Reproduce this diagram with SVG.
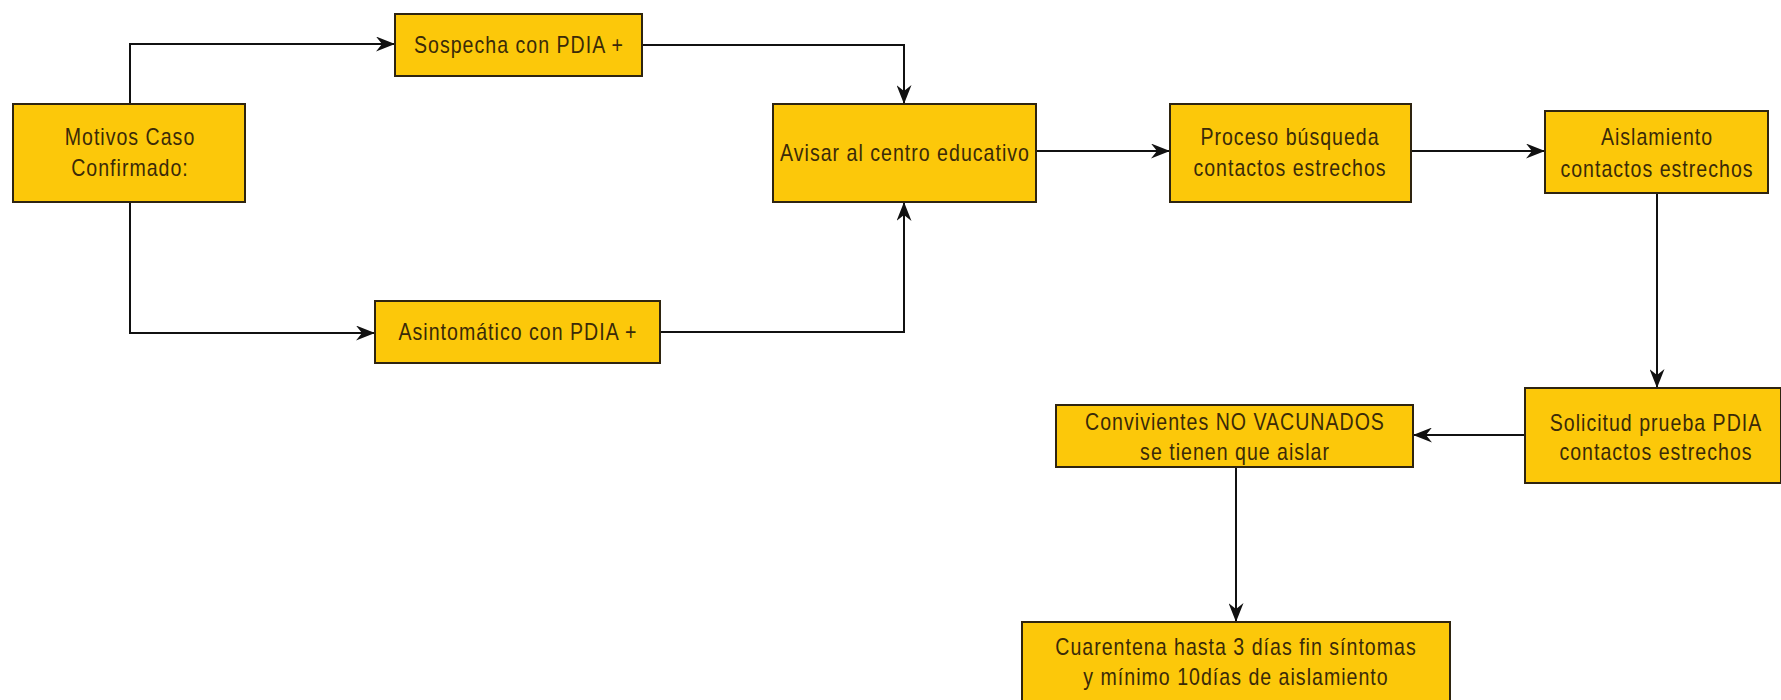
<svg xmlns="http://www.w3.org/2000/svg" width="1781" height="700" viewBox="0 0 1781 700">
<style>
.box{fill:#FCC80A;stroke:#2e2410;stroke-width:2}
.t{font-family:"Liberation Sans",Arial,sans-serif;font-size:23px;letter-spacing:1.2px;fill:#3a2a08;text-anchor:middle}
.c{fill:none;stroke:#111;stroke-width:2;marker-end:url(#arr)}
</style>
<defs>
<marker id="arr" markerUnits="userSpaceOnUse" viewBox="0 0 19 15" refX="19" refY="7.5" markerWidth="19" markerHeight="15" orient="auto">
<path d="M0,0 L19,7.5 L0,15 L6,7.5 Z" fill="#111"/>
</marker>
</defs>
<rect width="1781" height="700" fill="#fff"/>
<g id="connectors">
<path class="c" d="M130,104 V44 H395"/>
<path class="c" d="M130,202 V333 H375"/>
<path class="c" d="M642,45 H904 V104"/>
<path class="c" d="M660,332 H904 V202"/>
<path class="c" d="M1036,151 H1170"/>
<path class="c" d="M1411,151 H1545"/>
<path class="c" d="M1657,193 V388"/>
<path class="c" d="M1525,435 H1413"/>
<path class="c" d="M1236,467 V622"/>
</g>
<g id="motivos">
<rect class="box" x="13" y="104" width="232" height="98"/>
<text class="t" transform="translate(130,145) scale(0.85,1)">Motivos Caso</text>
<text class="t" transform="translate(130,176) scale(0.85,1)">Confirmado:</text>
</g>
<g id="sospecha">
<rect class="box" x="395" y="14" width="247" height="62"/>
<text class="t" transform="translate(519,53) scale(0.85,1)">Sospecha con PDIA +</text>
</g>
<g id="asintomatico">
<rect class="box" x="375" y="301" width="285" height="62"/>
<text class="t" transform="translate(518,340) scale(0.85,1)">Asintomático con PDIA +</text>
</g>
<g id="avisar">
<rect class="box" x="773" y="104" width="263" height="98"/>
<text class="t" transform="translate(905,161) scale(0.85,1)">Avisar al centro educativo</text>
</g>
<g id="proceso">
<rect class="box" x="1170" y="104" width="241" height="98"/>
<text class="t" transform="translate(1290,145) scale(0.85,1)">Proceso búsqueda</text>
<text class="t" transform="translate(1290,176) scale(0.85,1)">contactos estrechos</text>
</g>
<g id="aislamiento">
<rect class="box" x="1545" y="111" width="223" height="82"/>
<text class="t" transform="translate(1657,145) scale(0.85,1)">Aislamiento</text>
<text class="t" transform="translate(1657,177) scale(0.85,1)">contactos estrechos</text>
</g>
<g id="solicitud">
<rect class="box" x="1525" y="388" width="256" height="95"/>
<text class="t" transform="translate(1656,431) scale(0.85,1)">Solicitud prueba PDIA</text>
<text class="t" transform="translate(1656,460) scale(0.85,1)">contactos estrechos</text>
</g>
<g id="convivientes">
<rect class="box" x="1056" y="405" width="357" height="62"/>
<text class="t" transform="translate(1235,430) scale(0.85,1)">Convivientes NO VACUNADOS</text>
<text class="t" transform="translate(1235,460) scale(0.85,1)">se tienen que aislar</text>
</g>
<g id="cuarentena">
<rect class="box" x="1022" y="622" width="428" height="90"/>
<text class="t" transform="translate(1236,655) scale(0.85,1)">Cuarentena hasta 3 días fin síntomas</text>
<text class="t" transform="translate(1236,685) scale(0.85,1)">y mínimo 10días de aislamiento</text>
</g>
</svg>
